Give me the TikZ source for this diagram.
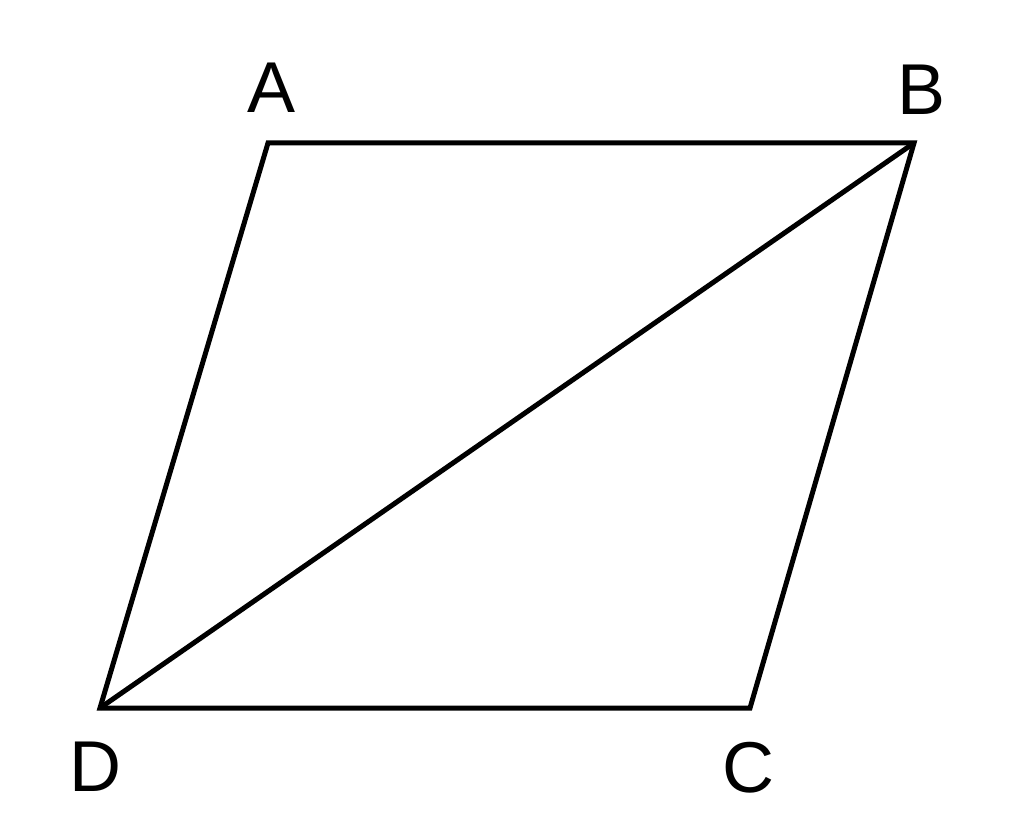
\documentclass[tikz,border=0pt]{standalone}
\usepackage{fontspec}
\setmainfont{Liberation Sans}
\begin{document}
\begin{tikzpicture}[x=1pt,y=-1pt,
  edge/.style={line width=5pt,line join=miter},
  lbl/.style={font=\fontsize{72}{80}\selectfont,inner sep=0pt}]
\useasboundingbox (0,0) rectangle (1024,834);
\coordinate (A) at (268,143);
\coordinate (B) at (914,143);
\coordinate (C) at (750,708);
\coordinate (D) at (100,708);
\draw[edge] (A) -- (B) -- (C) -- (D) -- cycle;
\draw[edge] (D) -- (B);
\node[lbl] (la) at (272,88) {A};
\node[lbl] (lb) at (921,90) {B};
\node[lbl] (lc) at (748,768) {C};
\node[lbl] (ld) at (95,767) {D};
\end{tikzpicture}
\end{document}
